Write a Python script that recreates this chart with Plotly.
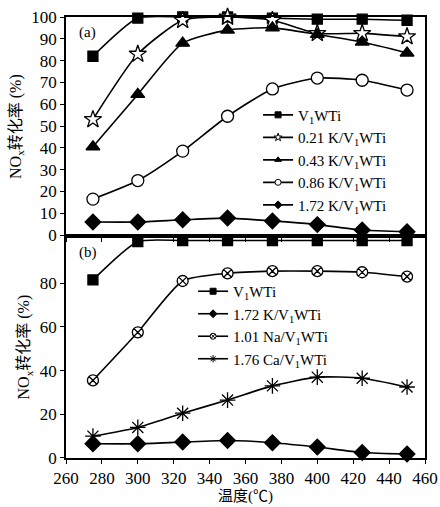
import plotly.graph_objects as go
from plotly.subplots import make_subplots

temps = [275, 300, 325, 350, 375, 400, 425, 450]

# panel (a)
a_v1wti = [82, 99.5, 100, 100, 99.5, 99, 99, 98.5]
a_k021 = [53, 83, 98.5, 100, 98.5, 92.5, 92.5, 91]
a_k043 = [40.5, 64.5, 88, 94, 95, 92, 88.5, 83.5]
a_k086 = [16.5, 25, 38.5, 54.5, 67, 72, 71, 66.5]
a_k172 = [6, 6, 7, 7.8, 6.5, 4.8, 2.3, 1.5]

# panel (b)
b_v1wti = [81.5, 99, 99.5, 99.5, 99.5, 99.5, 99.5, 99.5]
b_k172 = [6.5, 6.5, 7.3, 8, 7, 5, 2.5, 1.8]
b_na101 = [35.5, 57.5, 81, 84.5, 85.5, 85.5, 85, 83]
b_ca176 = [10, 14, 20.5, 26.5, 33, 37, 36.5, 32.5]

x_ticks = [260, 280, 300, 320, 340, 360, 380, 400, 420, 440, 460]

SERIF = "Liberation Serif, Times New Roman, serif"
CJK = "Liberation Serif, Noto Sans CJK SC"

fig = make_subplots(rows=2, cols=1, shared_xaxes=True, vertical_spacing=0.0)

def add(y, row, symbol, size, fill, lcol, name, legend):
    fig.add_trace(go.Scatter(
        x=temps, y=y, mode="lines+markers",
        line=dict(color="black", width=1.6, shape="spline", smoothing=0.6),
        marker=dict(symbol=symbol, size=size, color=fill,
                    line=dict(color=lcol, width=1.3)),
        cliponaxis=False, showlegend=False), row=row, col=1)
    fig.add_trace(go.Scatter(
        x=[None], y=[None], mode="lines+markers", name=name,
        line=dict(color="black", width=1.6),
        marker=dict(symbol=symbol, size=6, color=fill,
                    line=dict(color=lcol, width=1)),
        legend=legend, showlegend=True), row=row, col=1)

add(a_v1wti, 1, "square", 10, "black", "black", "V<sub>1</sub>WTi", "legend")
add(a_k021, 1, "star", 13, "white", "black", "0.21 K/V<sub>1</sub>WTi", "legend")
add(a_k043, 1, "triangle-up", 12, "black", "black", "0.43 K/V<sub>1</sub>WTi", "legend")
add(a_k086, 1, "circle", 12, "white", "black", "0.86 K/V<sub>1</sub>WTi", "legend")
add(a_k172, 1, "diamond", 12, "black", "black", "1.72 K/V<sub>1</sub>WTi", "legend")

add(b_v1wti, 2, "square", 10, "black", "black", "V<sub>1</sub>WTi", "legend2")
add(b_k172, 2, "diamond", 12, "black", "black", "1.72 K/V<sub>1</sub>WTi", "legend2")
add(b_na101, 2, "circle-x", 11, "white", "black", "1.01 Na/V<sub>1</sub>WTi", "legend2")
add(b_ca176, 2, "asterisk-open", 13, "black", "black", "1.76 Ca/V<sub>1</sub>WTi", "legend2")

axis_common = dict(showline=True, linecolor="black", linewidth=1.5, mirror=True,
                   ticks="outside", ticklen=4, tickcolor="black", showgrid=False,
                   zeroline=False, automargin=False,
                   tickfont=dict(family=SERIF, size=17, color="black"))

fig.update_xaxes(range=[260, 460], tickvals=x_ticks, **axis_common)
fig.update_xaxes(showticklabels=False, row=1, col=1)
fig.update_xaxes(title=dict(text="温度(℃)", font=dict(family=CJK, size=15, color="black"),
                            standoff=2), row=2, col=1)

fig.update_yaxes(range=[-0.5, 100], tickvals=list(range(0, 101, 10)), row=1, col=1, **axis_common)
fig.update_yaxes(range=[0, 101.5], tickvals=[0, 20, 40, 60, 80], row=2, col=1, **axis_common)
ytitle = dict(text="NO<sub>x</sub>转化率 (%)", font=dict(family=CJK, size=16, color="black"), standoff=6)
fig.update_yaxes(title=ytitle, row=1, col=1)
fig.update_yaxes(title=ytitle, row=2, col=1)

fig.update_layout(
    width=440, height=507, autosize=False,
    margin=dict(l=66, r=15, t=17, b=49, autoexpand=False),
    plot_bgcolor="white", paper_bgcolor="white",
    legend=dict(x=0.535, y=0.815, xanchor="left", yanchor="top",
                bgcolor="rgba(0,0,0,0)", tracegroupgap=0,
                font=dict(family=SERIF, size=15, color="black")),
    legend2=dict(x=0.354, y=0.415, xanchor="left", yanchor="top",
                 bgcolor="rgba(0,0,0,0)", tracegroupgap=0,
                 font=dict(family=SERIF, size=15, color="black")),
    annotations=[
        dict(text="(a)", x=0.03, y=0.965, xref="paper", yref="paper", showarrow=False,
             xanchor="left", yanchor="middle", font=dict(family=SERIF, size=15, color="black")),
        dict(text="(b)", x=0.03, y=0.465, xref="paper", yref="paper", showarrow=False,
             xanchor="left", yanchor="middle", font=dict(family=SERIF, size=15, color="black")),
    ],
)
fig.update_yaxes(domain=[0.503, 1.0], row=1, col=1)
fig.update_yaxes(domain=[0.0, 0.503], row=2, col=1)

fig.write_html("out.html", config={"displayModeBar": False},
               post_script="document.body.style.margin='0px';")
